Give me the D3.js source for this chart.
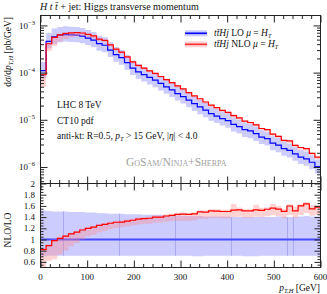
<!DOCTYPE html>
<html>
<head>
<meta charset="utf-8">
<script src="https://cdn.jsdelivr.net/npm/d3@7/dist/d3.min.js"></script>
<style>
body { margin: 0; background: #fff; }
text { font-family: "Liberation Serif", "DejaVu Serif", serif; fill: #111; }
</style>
</head>
<body>
<div id="chart"></div>
<script>
// histogram bins (GeV), lower edges
var binLow = [0,12,24,36,48,60,72,84,96,108,120,132,144,156,168,180,192,204,216,228,
  240,252,264,276,288,300,312,324,336,348,360,372,384,396,408,420,432,444,456,468,
  480,492,504,516,528,540,552,564,576,588];
var binWidth = 12;

// dsigma/dpT [pb/GeV]
var loXsec = [1.10e-4,4.60e-4,5.70e-4,6.20e-4,6.40e-4,6.30e-4,6.20e-4,5.90e-4,5.40e-4,4.90e-4,
  4.10e-4,3.80e-4,3.00e-4,2.40e-4,2.07e-4,1.62e-4,1.25e-4,1.04e-4,9.10e-5,7.90e-5,
  6.90e-5,5.90e-5,5.00e-5,4.30e-5,3.60e-5,3.10e-5,2.60e-5,2.20e-5,1.87e-5,1.60e-5,
  1.35e-5,1.20e-5,1.06e-5,9.60e-6,8.00e-6,7.20e-6,6.20e-6,5.80e-6,5.10e-6,4.30e-6,
  4.00e-6,3.20e-6,2.90e-6,2.45e-6,2.24e-6,1.90e-6,1.62e-6,1.49e-6,1.26e-6,1.02e-6];
var nloXsec = [9.0e-5,4.09e-4,5.59e-4,6.32e-4,6.78e-4,6.93e-4,7.01e-4,6.90e-4,6.48e-4,5.98e-4,
  5.13e-4,4.83e-4,3.87e-4,3.14e-4,2.71e-4,2.15e-4,1.68e-4,1.42e-4,1.25e-4,1.09e-4,
  9.66e-5,8.26e-5,7.10e-5,6.15e-5,5.22e-5,4.50e-5,3.77e-5,3.21e-5,2.79e-5,2.38e-5,
  2.04e-5,1.81e-5,1.59e-5,1.44e-5,1.22e-5,1.10e-5,9.36e-6,8.76e-6,7.80e-6,6.54e-6,
  6.16e-6,4.99e-6,4.47e-6,3.68e-6,3.58e-6,2.87e-6,2.59e-6,2.44e-6,1.95e-6,1.61e-6];

// scale variation envelopes, as factors of the central value
var loUpFac = [1.52,1.51,1.50,1.50,1.50,1.49,1.49,1.49,1.48,1.48,
  1.47,1.47,1.46,1.46,1.46,1.45,1.45,1.45,1.44,1.44,
  1.44,1.44,1.43,1.43,1.43,1.42,1.42,1.42,1.42,1.41,
  1.41,1.41,1.41,1.41,1.40,1.40,1.40,1.40,1.40,1.40,
  1.40,1.40,1.41,1.40,1.40,1.40,1.41,1.42,1.41,1.41];
var loDnFac = [0.70,0.71,0.71,0.71,0.71,0.71,0.71,0.71,0.71,0.71,
  0.71,0.71,0.71,0.71,0.71,0.71,0.71,0.71,0.71,0.71,
  0.71,0.71,0.71,0.71,0.71,0.71,0.71,0.70,0.70,0.71,
  0.71,0.71,0.71,0.71,0.71,0.71,0.70,0.70,0.70,0.71,
  0.71,0.71,0.71,0.71,0.71,0.71,0.71,0.71,0.71,0.71];
var nloUpFac = [1.04,1.03,1.02,1.02,1.02,1.02,1.02,1.02,1.02,1.02,
  1.02,1.02,1.02,1.02,1.02,1.02,1.02,1.02,1.02,1.02,
  1.02,1.02,1.02,1.02,1.02,1.02,1.02,1.02,1.02,1.02,
  1.02,1.02,1.02,1.02,1.07,1.03,1.02,1.02,1.06,1.03,
  1.02,1.05,1.04,1.03,1.02,1.05,1.02,1.02,1.04,1.02];
var nloDnFac = [0.55,0.70,0.66,0.72,0.76,0.80,0.83,0.86,0.88,0.89,
  0.90,0.91,0.92,0.92,0.93,0.93,0.93,0.93,0.93,0.93,
  0.93,0.93,0.93,0.93,0.92,0.92,0.92,0.92,0.92,0.92,
  0.92,0.92,0.92,0.92,0.92,0.92,0.92,0.92,0.92,0.92,
  0.92,0.92,0.92,0.92,0.90,0.92,0.90,0.90,0.92,0.91];

// seams visible in the LO band of the ratio panel
var bandSeams = [48, 168, 288, 408, 528, 540];

// ticks
var xTickLabels = [0, 100, 200, 300, 400, 500, 600];
var mainYTicks = [1e-3, 1e-4, 1e-5, 1e-6];
var mainYExps = ["\u22123", "\u22124", "\u22125", "\u22126"];
var ratioYTicks = [0.6, 0.8, 1, 1.2, 1.4, 1.6, 1.8, 2];

var width = 327, height = 294;
var svg = d3.select("#chart").append("svg")
  .attr("width", width).attr("height", height);

var x = d3.scaleLinear().domain([0, 600]).range([40.5, 320.5]);
var yMain = d3.scaleLog().domain([Math.pow(10, -6.35), Math.pow(10, -2.79)]).range([183.5, 15.5]);
var yRatio = d3.scaleLinear().domain([0.5, 2]).range([267.5, 183.5]);

var blue = "#0000ff", blueBand = "#ccccff";
var red = "#ff0000", pinkBand = "rgba(255,140,140,0.38)";

// step points: each bin plus closing edge
function steps(vals) {
  var pts = vals.map(function(v, i) { return { x: binLow[i], v: v }; });
  pts.push({ x: binLow[binLow.length - 1] + binWidth, v: vals[vals.length - 1] });
  return pts;
}
function bandPts(lo, hi) {
  var pts = lo.map(function(v, i) { return { x: binLow[i], lo: v, hi: hi[i] }; });
  var n = lo.length - 1;
  pts.push({ x: binLow[n] + binWidth, lo: lo[n], hi: hi[n] });
  return pts;
}

var defs = svg.append("defs");
defs.append("clipPath").attr("id", "clipMain").append("rect")
  .attr("x", x(0)).attr("y", yMain.range()[1]).attr("width", x(600) - x(0))
  .attr("height", yMain.range()[0] - yMain.range()[1]);
defs.append("clipPath").attr("id", "clipRatio").append("rect")
  .attr("x", x(0)).attr("y", yRatio.range()[1]).attr("width", x(600) - x(0))
  .attr("height", yRatio.range()[0] - yRatio.range()[1]);

// ---------- main panel ----------
var main = svg.append("g").attr("clip-path", "url(#clipMain)");

var loUp = loXsec.map(function(v, i) { return v * loUpFac[i]; });
var loDn = loXsec.map(function(v, i) { return v * loDnFac[i]; });
var nloUp = nloXsec.map(function(v, i) { return v * nloUpFac[i]; });
var nloDn = nloXsec.map(function(v, i) { return v * nloDnFac[i]; });

var mainArea = d3.area().curve(d3.curveStepAfter)
  .x(function(d) { return x(d.x); })
  .y0(function(d) { return yMain(d.lo); })
  .y1(function(d) { return yMain(d.hi); });
var mainLine = d3.line().curve(d3.curveStepAfter)
  .x(function(d) { return x(d.x); })
  .y(function(d) { return yMain(d.v); });

main.append("path").attr("d", mainArea(bandPts(loDn, loUp))).attr("fill", blueBand);
main.append("path").attr("d", mainLine(steps(loXsec)))
  .attr("fill", "none").attr("stroke", blue).attr("stroke-width", 1.2);
main.append("path").attr("d", mainArea(bandPts(nloDn, nloUp))).attr("fill", pinkBand);
main.append("path").attr("d", mainLine(steps(nloXsec)))
  .attr("fill", "none").attr("stroke", red).attr("stroke-width", 1.2);

// ---------- ratio panel ----------
var ratio = svg.append("g").attr("clip-path", "url(#clipRatio)");
var rArea = d3.area().curve(d3.curveStepAfter)
  .x(function(d) { return x(d.x); })
  .y0(function(d) { return yRatio(d.lo); })
  .y1(function(d) { return yRatio(d.hi); });
var rLine = d3.line().curve(d3.curveStepAfter)
  .x(function(d) { return x(d.x); })
  .y(function(d) { return yRatio(d.v); });

var rLoUp = loUp.map(function(v, i) { return v / loXsec[i]; });
var rLoDn = loDn.map(function(v, i) { return v / loXsec[i]; });
var rLo = loXsec.map(function(v, i) { return v / loXsec[i]; });
var rNlo = nloXsec.map(function(v, i) { return v / loXsec[i]; });
var rNloUp = nloUp.map(function(v, i) { return v / loXsec[i]; });
var rNloDn = nloDn.map(function(v, i) { return v / loXsec[i]; });

ratio.append("path").attr("d", rArea(bandPts(rLoDn, rLoUp))).attr("fill", blueBand);
ratio.selectAll("line.seam").data(bandSeams).enter().append("line")
  .attr("class", "seam")
  .attr("x1", function(d) { return Math.round(x(d)) + 0.5; })
  .attr("x2", function(d) { return Math.round(x(d)) + 0.5; })
  .attr("y1", function(d) { return yRatio(rLoUp[binLow.indexOf(d)]); })
  .attr("y2", function(d) { return yRatio(rLoDn[binLow.indexOf(d)]); })
  .attr("stroke", "#a9a9ee").attr("stroke-width", 1);
ratio.append("path").attr("d", rLine(steps(rLo)))
  .attr("fill", "none").attr("stroke", "#4848ff").attr("stroke-width", 2.2);
ratio.append("path").attr("d", rArea(bandPts(rNloDn, rNloUp))).attr("fill", pinkBand);
ratio.append("path").attr("d", rLine(steps(rNlo)))
  .attr("fill", "none").attr("stroke", red).attr("stroke-width", 1.2);

// ---------- axes ----------
var tickColor = "#222";
function addAxis(axis, tx, ty) {
  var g = svg.append("g").attr("transform", "translate(" + tx + "," + ty + ")").call(axis);
  g.select(".domain").remove();
  g.selectAll(".tick line").attr("stroke", tickColor);
  return g;
}
var xMinor = d3.range(0, 601, 20).filter(function(v) { return v % 100 !== 0; });
var yMinorMain = [];
[-7, -6, -5, -4, -3].forEach(function(e) {
  for (var m = 2; m <= 9; m++) {
    var v = m * Math.pow(10, e);
    if (v > yMain.domain()[0] && v < yMain.domain()[1]) yMinorMain.push(v);
  }
});
var yMinorRatio = d3.range(0.55, 2.0, 0.05).filter(function(v) {
  return Math.abs(Math.round(v * 5) - v * 5) > 1e-6;
});

[[yMain.range()[1], d3.axisTop], [yMain.range()[0], d3.axisBottom],
 [yRatio.range()[1], d3.axisTop], [yRatio.range()[0], d3.axisBottom]].forEach(function(p) {
  addAxis(p[1](x).tickValues(xTickLabels).tickSize(-7).tickFormat(""), 0, p[0]);
  addAxis(p[1](x).tickValues(xMinor).tickSize(-3.5).tickFormat(""), 0, p[0]);
});
[[x(0), d3.axisLeft], [x(600), d3.axisRight]].forEach(function(p) {
  addAxis(p[1](yMain).tickValues(mainYTicks).tickSize(-7).tickFormat(""), p[0], 0);
  addAxis(p[1](yMain).tickValues(yMinorMain).tickSize(-3.5).tickFormat(""), p[0], 0);
  addAxis(p[1](yRatio).tickValues(ratioYTicks).tickSize(-6).tickFormat(""), p[0], 0);
  addAxis(p[1](yRatio).tickValues(yMinorRatio).tickSize(-3).tickFormat(""), p[0], 0);
});

// frames
svg.append("rect").attr("x", x(0)).attr("y", yMain.range()[1])
  .attr("width", x(600) - x(0)).attr("height", yMain.range()[0] - yMain.range()[1])
  .attr("fill", "none").attr("stroke", tickColor).attr("stroke-width", 1);
svg.append("rect").attr("x", x(0)).attr("y", yRatio.range()[1])
  .attr("width", x(600) - x(0)).attr("height", yRatio.range()[0] - yRatio.range()[1])
  .attr("fill", "none").attr("stroke", tickColor).attr("stroke-width", 1);

// tick labels
var mainLab = svg.selectAll("text.ylab").data(mainYTicks).enter().append("text")
  .attr("class", "ylab").attr("x", 35).attr("y", function(d) { return yMain(d) + 3.5; })
  .attr("text-anchor", "end").attr("font-size", 9);
mainLab.append("tspan").text("10");
mainLab.append("tspan").attr("dy", -4).attr("font-size", 6.5)
  .text(function(d, i) { return mainYExps[i]; });

svg.selectAll("text.rlab").data(ratioYTicks).enter().append("text")
  .attr("class", "rlab").attr("x", 35).attr("y", function(d) { return yRatio(d) + 3; })
  .attr("text-anchor", "end").attr("font-size", 9)
  .text(function(d) { return d3.format("~g")(d); });

svg.selectAll("text.xlab").data(xTickLabels).enter().append("text")
  .attr("class", "xlab").attr("x", function(d) { return x(d); }).attr("y", 280)
  .attr("text-anchor", "middle").attr("font-size", 9)
  .text(function(d) { return d; });

// axis titles
var xt = svg.append("text").attr("x", 320).attr("y", 291).attr("text-anchor", "end").attr("font-size", 9.5);
xt.append("tspan").attr("font-style", "italic").text("p");
xt.append("tspan").attr("font-size", 6.5).attr("dy", 2).attr("font-style", "italic").text("T,H");
xt.append("tspan").attr("dy", -2).text(" [GeV]");

var yt = svg.append("text").attr("transform", "translate(11,17) rotate(-90)")
  .attr("text-anchor", "end").attr("font-size", 9.5);
yt.append("tspan").text("d");
yt.append("tspan").attr("font-style", "italic").text("\u03c3");
yt.append("tspan").text("/d");
yt.append("tspan").attr("font-style", "italic").text("p");
yt.append("tspan").attr("font-size", 6.5).attr("dy", 2).attr("font-style", "italic").text("T,H");
yt.append("tspan").attr("dy", -2).text(" [pb/GeV]");

svg.append("text").attr("transform", "translate(11,230) rotate(-90)")
  .attr("text-anchor", "middle").attr("font-size", 9.5).text("NLO/LO");

// title
var title = svg.append("text").attr("x", 40).attr("y", 10).attr("font-size", 10);
title.append("tspan").attr("font-style", "italic").text("H t t\u0304");
title.append("tspan").text(" + jet: Higgs transverse momentum");

// legend
var legendRows = [
  { y: 33.3, label: "LO", line: blue, band: blueBand },
  { y: 44.3, label: "NLO", line: "#ff3030", band: pinkBand }
];
var leg = svg.selectAll("g.leg").data(legendRows).enter().append("g").attr("class", "leg");
leg.append("rect").attr("x", 185).attr("width", 22)
  .attr("y", function(d) { return d.y - 3; }).attr("height", 6)
  .attr("fill", function(d) { return d.band; });
leg.append("line").attr("x1", 185).attr("x2", 207)
  .attr("y1", function(d) { return d.y; }).attr("y2", function(d) { return d.y; })
  .attr("stroke", function(d) { return d.line; }).attr("stroke-width", 1.6);
var lt = leg.append("text").attr("x", 214).attr("y", function(d) { return d.y + 3; })
  .attr("font-size", 9.5);
lt.append("tspan").attr("font-style", "italic").text("tt\u0304Hj");
lt.append("tspan").text(function(d) { return " " + d.label + " "; });
lt.append("tspan").attr("font-style", "italic").text("\u03bc");
lt.append("tspan").text(" = ");
lt.append("tspan").attr("font-style", "italic").text("H");
lt.append("tspan").attr("font-size", 6).attr("dy", 1.5).attr("font-style", "italic").text("T");

// annotations
svg.append("text").attr("x", 57).attr("y", 108).attr("font-size", 9.5).text("LHC 8 TeV");
svg.append("text").attr("x", 57).attr("y", 124).attr("font-size", 9.5).text("CT10 pdf");
var an = svg.append("text").attr("x", 57).attr("y", 139).attr("font-size", 9.5);
an.append("tspan").text("anti-kt: R=0.5, ");
an.append("tspan").attr("font-style", "italic").text("p");
an.append("tspan").attr("font-size", 6.5).attr("dy", 2).attr("font-style", "italic").text("T");
an.append("tspan").attr("dy", -2).text(" > 15 GeV, |");
an.append("tspan").attr("font-style", "italic").text("\u03b7");
an.append("tspan").text("| < 4.0");

svg.append("text").attr("x", 126).attr("y", 166).attr("font-size", 11.5)
  .style("font-variant", "small-caps").style("fill", "#a0a0a0")
  .text("GoSam/Ninja+Sherpa");
</script>
</body>
</html>
